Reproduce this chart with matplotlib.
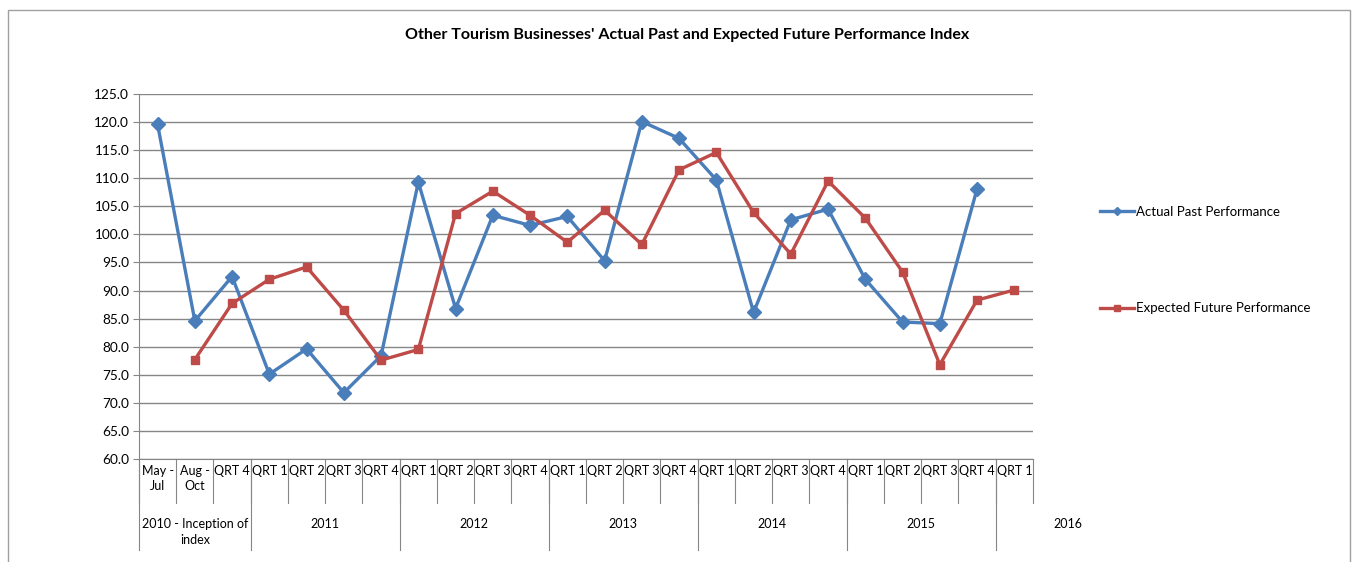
import numpy as np
import matplotlib
matplotlib.use('Agg')
import matplotlib.pyplot as plt
from matplotlib.lines import Line2D
from matplotlib.patches import Rectangle

plt.rcParams['font.family'] = ['Lato', 'DejaVu Sans']

# Data
period_labels = ['May -\nJul', 'Aug -\nOct', 'QRT 4',
                 'QRT 1', 'QRT 2', 'QRT 3', 'QRT 4',
                 'QRT 1', 'QRT 2', 'QRT 3', 'QRT 4',
                 'QRT 1', 'QRT 2', 'QRT 3', 'QRT 4',
                 'QRT 1', 'QRT 2', 'QRT 3', 'QRT 4',
                 'QRT 1', 'QRT 2', 'QRT 3', 'QRT 4',
                 'QRT 1']
year_labels = ['2010 - Inception of\nindex', '2011', '2012', '2013', '2014', '2015', '2016']
year_sizes = [3, 4, 4, 4, 4, 4, 1]

actual = [119.6, 84.6, 92.5, 75.1, 79.6, 71.8, 78.4, 109.3, 86.8, 103.4, 101.6,
          103.2, 95.3, 120.1, 117.1, 109.7, 86.1, 102.6, 104.5, 92.0, 84.4, 84.1,
          108.1, np.nan]
expected = [np.nan, 77.7, 87.7, 92.0, 94.2, 86.5, 77.6, 79.5, 103.7, 107.7, 103.4,
            98.6, 104.3, 98.2, 111.5, 114.6, 103.9, 96.5, 109.5, 102.9, 93.3, 76.8,
            88.3, 90.1]

blue = '#4a7ebb'
red = '#be4b48'
grid_col = '#868686'

fig = plt.figure(figsize=(13.57, 5.62), dpi=100)
fig.patches.append(Rectangle((0.006, -0.02), 0.989, 1.003, transform=fig.transFigure,
                             fill=False, edgecolor='#a0a0a0', linewidth=1))
ax = fig.add_axes([0.1024, 0.1833, 0.6588, 0.6494])

x = np.arange(len(period_labels))
ax.plot(x, actual, color=blue, linewidth=2.4, marker='D', markersize=7,
        label='Actual Past Performance', zorder=3)
ax.plot(x, expected, color=red, linewidth=2.4, marker='s', markersize=6,
        label='Expected Future Performance', zorder=4)

ax.set_xlim(-0.5, len(period_labels) - 0.5)
ax.set_ylim(60, 125)
ax.set_yticks(np.arange(60, 125.1, 5))
ax.set_yticklabels([f'{v:.1f}' for v in np.arange(60, 125.1, 5)], fontsize=9.8)
ax.yaxis.grid(True, color=grid_col, linewidth=1)
ax.set_axisbelow(True)
ax.tick_params(axis='y', length=4, color=grid_col, pad=3)
ax.set_xticks([])
for s in ['top', 'right']:
    ax.spines[s].set_visible(False)
ax.spines['left'].set_color(grid_col)
ax.spines['bottom'].set_color(grid_col)

# Two-tier category axis
tr = ax.get_xaxis_transform()
tier1 = -44 / 365
tier2 = -91 / 365
for i, lab in enumerate(period_labels):
    ax.text(i, -0.016, lab, transform=tr, ha='center', va='top', fontsize=9,
            linespacing=1.35, clip_on=False)
for b in np.arange(len(period_labels) + 1) - 0.5:
    ax.plot([b, b], [0, tier1], transform=tr, color=grid_col, linewidth=0.8,
            clip_on=False)
start = 0
for size, lab in zip(year_sizes, year_labels):
    ax.plot([start - 0.5, start - 0.5], [0, tier2], transform=tr, color=grid_col,
            linewidth=0.8, clip_on=False)
    centre = start + (size - 1) / 2
    if lab == '2016':
        centre = 24.45
    ax.text(centre, -0.163, lab, transform=tr, ha='center', va='top', fontsize=9,
            linespacing=1.35, clip_on=False)
    start += size

fig.text(0.506, 0.937, "Other Tourism Businesses' Actual Past and Expected Future Performance Index",
         ha='center', va='center', fontsize=11.5, fontweight='bold')

handles = [Line2D([], [], color=blue, linewidth=2.4, marker='D', markersize=4),
           Line2D([], [], color=red, linewidth=2.4, marker='s', markersize=4)]
fig.legend(handles, ['Actual Past Performance', 'Expected Future Performance'],
           loc='upper left', bbox_to_anchor=(0.802, 0.655), frameon=False,
           fontsize=9.5, handlelength=2.6, handletextpad=0.15, labelspacing=6.4)

fig.savefig('out.png', dpi=100)
